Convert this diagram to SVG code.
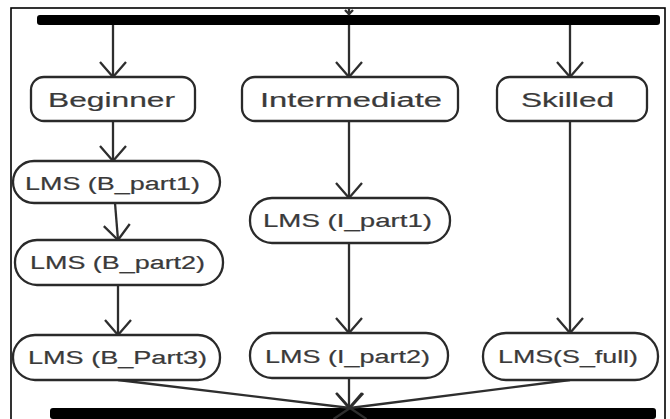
<svg xmlns="http://www.w3.org/2000/svg" width="670" height="419" viewBox="0 0 670 419">
<defs>
<style>
.box{fill:#fff;stroke:#2a2a2a;stroke-width:2.3}
.lbl{font-family:"Liberation Sans",Arial,sans-serif;fill:#3a3a3a;stroke:#3a3a3a;stroke-width:0.2;text-anchor:middle}
.top{font-size:20px}
.lms{font-size:18px}
.con{fill:none;stroke:#2e2e2e;stroke-width:2.3}
.bar{fill:#000}
</style>
<marker id="arr" viewBox="-16 -15 18 30" markerWidth="18" markerHeight="30" refX="0" refY="0" orient="auto" markerUnits="userSpaceOnUse">
<path d="M-15,-13 L0,0 L-15,13" fill="none" stroke="#2e2e2e" stroke-width="2.3"/>
</marker>
</defs>
<rect x="11" y="8" width="654" height="425" fill="#fff" stroke="#000" stroke-width="1.6"/>
<g id="fork"><rect class="bar" x="37" y="15" width="623" height="10" rx="3"/></g>
<g id="join"><rect class="bar" x="50" y="408" width="606" height="11" rx="3"/></g>
<g id="connectors">
<path class="con" d="M349,8 L349,15"/>
<path class="con" d="M345,10 L349,14 L353,10"/>
<path class="con" d="M113,25 L113,77" marker-end="url(#arr)"/>
<path class="con" d="M349,25 L349,77" marker-end="url(#arr)"/>
<path class="con" d="M570,25 L570,77" marker-end="url(#arr)"/>
<path class="con" d="M113,121 L113,161" marker-end="url(#arr)"/>
<path class="con" d="M115,203 L118,240" marker-end="url(#arr)"/>
<path class="con" d="M118,285 L118,335" marker-end="url(#arr)"/>
<path class="con" d="M349,121 L349,198" marker-end="url(#arr)"/>
<path class="con" d="M349,243 L349,333" marker-end="url(#arr)"/>
<path class="con" d="M570,121 L570,333" marker-end="url(#arr)"/>
<path class="con" d="M118,380 L350,408" marker-end="url(#arr)"/>
<path class="con" d="M349,378 L349,408" marker-end="url(#arr)"/>
<path class="con" d="M570,380 L350,408" marker-end="url(#arr)"/>
</g>
<g id="beginner"><rect class="box" x="31" y="77" width="164" height="44" rx="13"/><text class="lbl top" x="111.5" y="107" textLength="127" lengthAdjust="spacingAndGlyphs">Beginner</text></g>
<g id="intermediate"><rect class="box" x="242" y="77" width="216" height="44" rx="13"/><text class="lbl top" x="351" y="107" textLength="182" lengthAdjust="spacingAndGlyphs">Intermediate</text></g>
<g id="skilled"><rect class="box" x="497" y="77" width="150" height="44" rx="13"/><text class="lbl top" x="567.5" y="107" textLength="93" lengthAdjust="spacingAndGlyphs">Skilled</text></g>
<g id="b_part1"><rect class="box" x="13" y="161" width="207" height="42" rx="21"/><text class="lbl lms" x="112.5" y="190" textLength="175" lengthAdjust="spacingAndGlyphs">LMS (B_part1)</text></g>
<g id="b_part2"><rect class="box" x="15" y="240" width="208" height="45" rx="22"/><text class="lbl lms" x="117.5" y="269" textLength="175" lengthAdjust="spacingAndGlyphs">LMS (B_part2)</text></g>
<g id="b_part3"><rect class="box" x="13" y="335" width="207" height="45" rx="22"/><text class="lbl lms" x="117.5" y="364" textLength="179" lengthAdjust="spacingAndGlyphs">LMS (B_Part3)</text></g>
<g id="i_part1"><rect class="box" x="250" y="198" width="200" height="45" rx="22"/><text class="lbl lms" x="347.5" y="227" textLength="169" lengthAdjust="spacingAndGlyphs">LMS (I_part1)</text></g>
<g id="i_part2"><rect class="box" x="250" y="333" width="198" height="45" rx="22"/><text class="lbl lms" x="347.5" y="363" textLength="165" lengthAdjust="spacingAndGlyphs">LMS (I_part2)</text></g>
<g id="s_full"><rect class="box" x="483" y="333" width="175" height="47" rx="23"/><text class="lbl lms" x="568" y="363" textLength="140" lengthAdjust="spacingAndGlyphs">LMS(S_full)</text></g>
</svg>
